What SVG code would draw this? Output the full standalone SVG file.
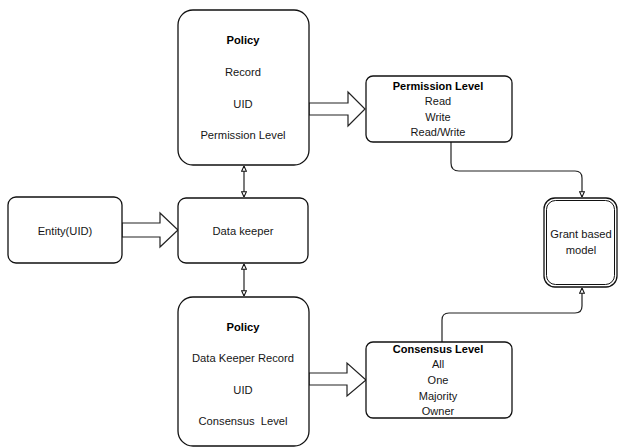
<svg xmlns="http://www.w3.org/2000/svg" width="620" height="448" viewBox="0 0 620 448">
  <style>
    .box { fill: #ffffff; stroke: #111111; stroke-width: 1.3; }
    .lbl { font-family: "Liberation Sans", Arial, sans-serif; font-size: 11.2px; fill: #161616; text-anchor: middle; }
    .sm { font-size: 11px; }
    .b { font-weight: bold; fill: #000000; }
    .wire { fill: none; stroke: #222222; stroke-width: 1.2; }
    .block { fill: #ffffff; stroke: #222222; stroke-width: 1.2; stroke-linejoin: miter; }
  </style>
  <defs>
    <marker id="tri" viewBox="0 0 8 8" refX="7.5" refY="4" markerWidth="6" markerHeight="6" markerUnits="userSpaceOnUse" orient="auto-start-reverse">
      <path d="M0.5,0.8 L7.5,4 L0.5,7.2 Z" fill="#ffffff" stroke="#111111" stroke-width="1.4"/>
    </marker>
  </defs>

  <rect width="620" height="448" fill="#ffffff"/>

  <g id="connectors">
    <!-- hollow block arrows -->
    <polygon class="block" points="122,223 160,223 160,213 178,230 160,247 160,237 122,237"/>
    <polygon class="block" points="309,103 348,103 348,92 365,109 348,126 348,115 309,115"/>
    <polygon class="block" points="309,373 347,373 347,363 366,380 347,396 347,385 309,385"/>
    <!-- two-way links around the data keeper -->
    <line class="wire" x1="244" y1="166" x2="244" y2="197" stroke-width="2" marker-start="url(#tri)" marker-end="url(#tri)"/>
    <line class="wire" x1="244" y1="264" x2="244" y2="296" marker-start="url(#tri)" marker-end="url(#tri)"/>
    <!-- level boxes into the grant model -->
    <path class="wire" d="M451,142 L451,163 Q451,171 459,171 L575,171 Q582,171 582,178 L582,197" marker-end="url(#tri)"/>
    <path class="wire" d="M442,342 L442,320 Q442,313 449,313 L575,313 Q582,313 582,306 L582,288" marker-end="url(#tri)"/>
  </g>

  <g id="policy-permission">
    <rect class="box" x="178" y="10" width="131" height="155" rx="15"/>
    <text class="lbl b" x="243" y="44">Policy</text>
    <text class="lbl" x="243" y="76">Record</text>
    <text class="lbl" x="243" y="108">UID</text>
    <text class="lbl" x="243" y="139">Permission Level</text>
  </g>

  <g id="permission-level">
    <rect class="box" x="366" y="76" width="146" height="66" rx="7"/>
    <text class="lbl sm b" x="438" y="90">Permission Level</text>
    <text class="lbl sm" x="438" y="105">Read</text>
    <text class="lbl sm" x="438" y="121">Write</text>
    <text class="lbl sm" x="438" y="136">Read/Write</text>
  </g>

  <g id="entity">
    <rect class="box" x="8" y="197" width="114" height="66" rx="8"/>
    <text class="lbl" x="65" y="235">Entity(UID)</text>
  </g>

  <g id="data-keeper">
    <rect class="box" x="178" y="198" width="130" height="65" rx="8"/>
    <text class="lbl" x="243" y="235">Data keeper</text>
  </g>

  <g id="grant-model">
    <rect class="box" x="544" y="198" width="73" height="89" rx="11"/>
    <rect x="546.5" y="200.5" width="68" height="84" rx="9" fill="none" stroke="#111111" stroke-width="1"/>
    <text class="lbl" x="581" y="238">Grant based</text>
    <text class="lbl" x="581" y="254">model</text>
  </g>

  <g id="policy-consensus">
    <rect class="box" x="178" y="297" width="131" height="149" rx="15"/>
    <text class="lbl b" x="243" y="331">Policy</text>
    <text class="lbl" x="243" y="362">Data Keeper Record</text>
    <text class="lbl" x="243" y="394">UID</text>
    <text class="lbl" x="243" y="425" xml:space="preserve">Consensus  Level</text>
  </g>

  <g id="consensus-level">
    <rect class="box" x="366" y="342" width="146" height="76" rx="7"/>
    <text class="lbl sm b" x="438" y="353">Consensus Level</text>
    <text class="lbl sm" x="438" y="368">All</text>
    <text class="lbl sm" x="438" y="384">One</text>
    <text class="lbl sm" x="438" y="400">Majority</text>
    <text class="lbl sm" x="438" y="415">Owner</text>
  </g>
</svg>
